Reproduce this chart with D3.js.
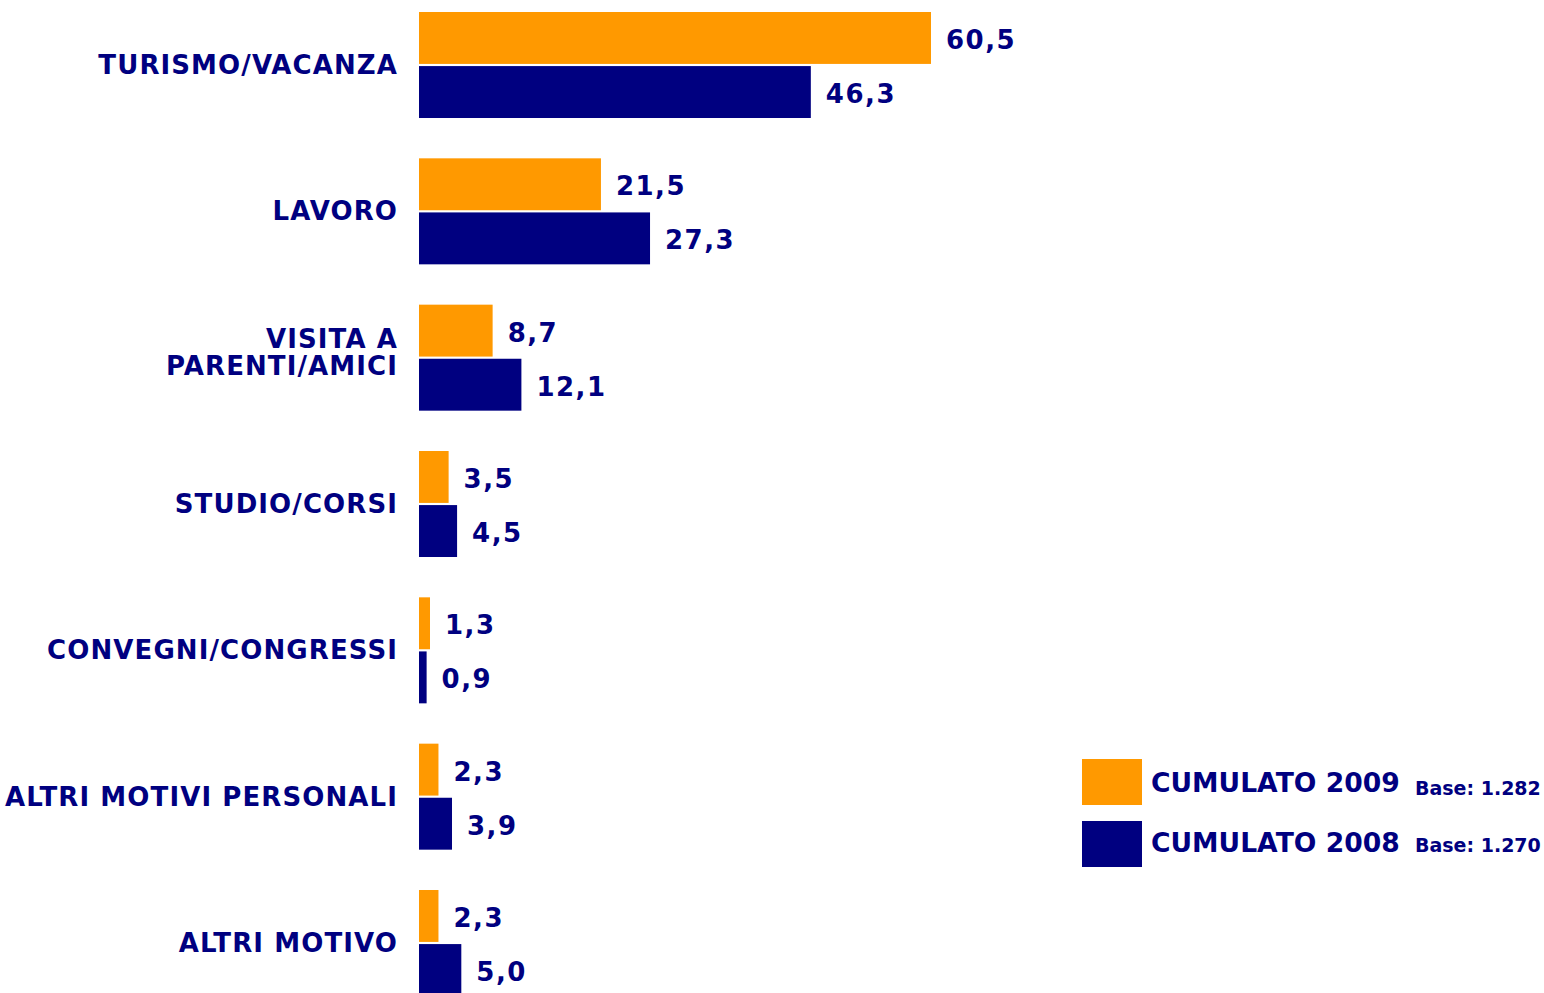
<!DOCTYPE html>
<html>
<head>
<meta charset="utf-8">
<script src="https://cdn.jsdelivr.net/npm/d3@7"></script>
<style>
  html, body { margin: 0; padding: 0; background: #fff; }
  svg { display: block; }
  text { font-family: "DejaVu Sans", Verdana, sans-serif; font-weight: bold; fill: #000080; }
</style>
</head>
<body>
<div id="chart"></div>
<script>
const categories = [
  ['TURISMO/VACANZA'],
  ['LAVORO'],
  ['VISITA A', 'PARENTI/AMICI'],
  ['STUDIO/CORSI'],
  ['CONVEGNI/CONGRESSI'],
  ['ALTRI MOTIVI PERSONALI'],
  ['ALTRI MOTIVO']
];
const seriesNames = ['CUMULATO 2009', 'CUMULATO 2008'];
const seriesBase = ['Base: 1.282', 'Base: 1.270'];
const values2009 = [60.5, 21.5, 8.7, 3.5, 1.3, 2.3, 2.3];
const values2008 = [46.3, 27.3, 12.1, 4.5, 0.9, 3.9, 5.0];
const colors = ['#ff9900', '#000080'];

(function() {
  const width = 1544, height = 993;
  const svg = d3.select('#chart').append('svg')
    .attr('width', width)
    .attr('height', height);

  const keys = categories.map(function(c, i) { return i; });
  const series = [values2009, values2008];

  const x = d3.scaleLinear().domain([0, 60.5]).range([419, 931]);

  const y0 = d3.scaleBand()
    .domain(keys)
    .range([12, 996])
    .paddingInner(0.2756)
    .paddingOuter(0);

  const y1 = d3.scaleBand()
    .domain([0, 1])
    .range([0, y0.bandwidth()])
    .paddingInner(0.04);

  const groups = svg.selectAll('.grp')
    .data(keys)
    .enter()
    .append('g')
      .attr('class', 'grp')
      .attr('transform', function(i) { return 'translate(0,' + y0(i) + ')'; });

  // Bars
  groups.selectAll('rect')
    .data(function(i) { return series.map(function(s, k) { return { k: k, v: s[i] }; }); })
    .enter()
    .append('rect')
      .attr('x', x(0))
      .attr('y', function(d) { return y1(d.k); })
      .attr('width', function(d) { return Math.max(x(d.v) - x(0), 4); })
      .attr('height', y1.bandwidth())
      .attr('fill', function(d) { return colors[d.k]; });

  // Value labels
  groups.selectAll('.val')
    .data(function(i) { return series.map(function(s, k) { return { k: k, v: s[i] }; }); })
    .enter()
    .append('text')
      .attr('class', 'val')
      .attr('x', function(d) { return Math.max(x(d.v), x(0) + 4) + 15; })
      .attr('y', function(d) { return y1(d.k) + y1.bandwidth() / 2 + 2; })
      .attr('dy', '0.35em')
      .style('font-size', '26px')
      .style('letter-spacing', '1.5px')
      .text(function(d) { return d.v.toFixed(1).replace('.', ','); });

  // Category labels
  groups.append('text')
    .attr('class', 'cat')
    .attr('text-anchor', 'end')
    .attr('x', 398)
    .attr('y', function(i) { return y0.bandwidth() / 2 - (categories[i].length - 1) * 19; })
    .style('font-size', '26px')
    .style('letter-spacing', '1.1px')
    .each(function(i) {
      const t = d3.select(this);
      categories[i].forEach(function(line, j) {
        t.append('tspan')
          .attr('x', 398)
          .attr('dy', j === 0 ? '0.35em' : '27px')
          .text(line);
      });
    });

  // Legend
  const legend = svg.append('g').attr('transform', 'translate(1082,759)');
  seriesNames.forEach(function(name, k) {
    const row = legend.append('g').attr('transform', 'translate(0,' + (k * 62) + ')');
    row.append('rect')
      .attr('width', 60)
      .attr('height', 46)
      .attr('fill', colors[k]);
    row.append('text')
      .attr('x', 69)
      .attr('y', 24 - k * 2)
      .attr('dy', '0.35em')
      .style('font-size', '26.6px')
      .text(name);
    row.append('text')
      .attr('x', 333)
      .attr('y', 29 - k * 5)
      .attr('dy', '0.35em')
      .style('font-size', '19px')
      .text(seriesBase[k]);
  });
})();
</script>
</body>
</html>
